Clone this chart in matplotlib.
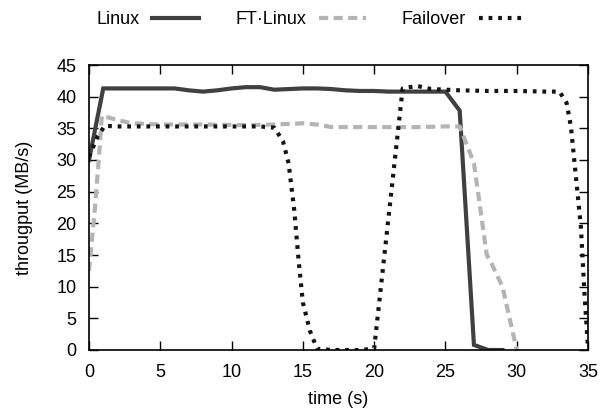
import matplotlib
matplotlib.use("Agg")
import matplotlib.pyplot as plt

plt.rcParams['font.family'] = ['Liberation Sans', 'DejaVu Sans']

# ---- data ----
linux_t = [0, 1, 2, 3, 4, 5, 6, 7, 8, 9, 10, 11, 12, 13, 14, 15, 16, 17, 18, 19,
           20, 21, 22, 23, 24, 25, 26, 27, 28, 29]
linux_v = [30.0, 41.3, 41.3, 41.3, 41.3, 41.3, 41.3, 41.0, 40.8, 41.0, 41.3, 41.5,
           41.5, 41.1, 41.2, 41.3, 41.3, 41.2, 41.0, 40.9, 40.9, 40.8, 40.8, 40.8,
           40.8, 40.8, 37.8, 0.8, 0.0, 0.0]

ft_t = [0, 0.4, 0.7, 0.9, 2, 3, 5, 8, 11, 13, 15, 16, 17, 19, 21, 23, 25, 26,
        27, 27.9, 28.2, 29, 30]
ft_v = [12.5, 22.0, 30.5, 37.0, 36.3, 35.8, 35.6, 35.6, 35.5, 35.6, 35.8, 35.6,
        35.2, 35.2, 35.2, 35.2, 35.3, 35.3, 29.5, 15.0, 13.8, 10.0, 0.0]

fo_t = [0, 0.6, 1.1, 2, 4, 6, 8, 10, 12, 13, 13.6, 14, 14.4, 14.7, 15, 15.5, 16,
        17, 18, 19, 20, 22, 23, 24, 26, 28, 30, 32, 33, 33.5, 33.8, 34.5, 34.75, 35]
fo_v = [30.5, 33.7, 35.4, 35.3, 35.3, 35.3, 35.3, 35.3, 35.3, 35.1, 33.0, 29.5,
        22.0, 14.2, 7.5, 3.0, 0.2, 0.0, 0.0, 0.0, 0.2, 41.3, 41.7, 41.2, 41.0,
        40.9, 40.9, 40.8, 40.8, 39.0, 35.3, 19.5, 9.0, 0.3]

labels = ['Linux', 'FT\u00b7Linux', 'Failover']
xticks = [0, 5, 10, 15, 20, 25, 30, 35]
yticks = [0, 5, 10, 15, 20, 25, 30, 35, 40, 45]

# ---- figure ----
fig = plt.figure(figsize=(6.10, 4.11), dpi=100)
ax = fig.add_axes([89 / 610, 1 - 350 / 411, (588 - 89) / 610, (350 - 65) / 411])

c_linux = '#404040'
c_ft = '#b4b4b4'
c_fo = '#141414'

l1, = ax.plot(linux_t, linux_v, color=c_linux, lw=3.0, solid_joinstyle='miter',
              label=labels[0])
l2, = ax.plot(ft_t, ft_v, color=c_ft, lw=3.0, dashes=(2.2, 1.3),
              label=labels[1])
l3, = ax.plot(fo_t, fo_v, color=c_fo, lw=3.0, dashes=(0.9, 1.4),
              label=labels[2])

ax.set_xlim(0, 35)
ax.set_ylim(0, 45)
ax.set_xticks(xticks)
ax.set_yticks(yticks)
ax.tick_params(direction='in', length=6.5, width=1.0, labelsize=13,
               top=True, right=True, pad=10, colors='black')
ax.tick_params(axis='y', pad=9)
for s in ax.spines.values():
    s.set_linewidth(1.2)
    s.set_color('black')

ax.set_xlabel('time (s)', fontsize=13, labelpad=7)
ax.set_ylabel('througput (MB/s)', fontsize=13, labelpad=17)

fig.legend(handles=[l1, l2, l3], labels=labels, loc='center',
           bbox_to_anchor=(311 / 610, 1 - 20 / 411), ncol=3, frameon=False,
           markerfirst=False, fontsize=13, handlelength=2.6,
           handletextpad=0.7, columnspacing=2.0)

fig.savefig('out.png', dpi=100)
